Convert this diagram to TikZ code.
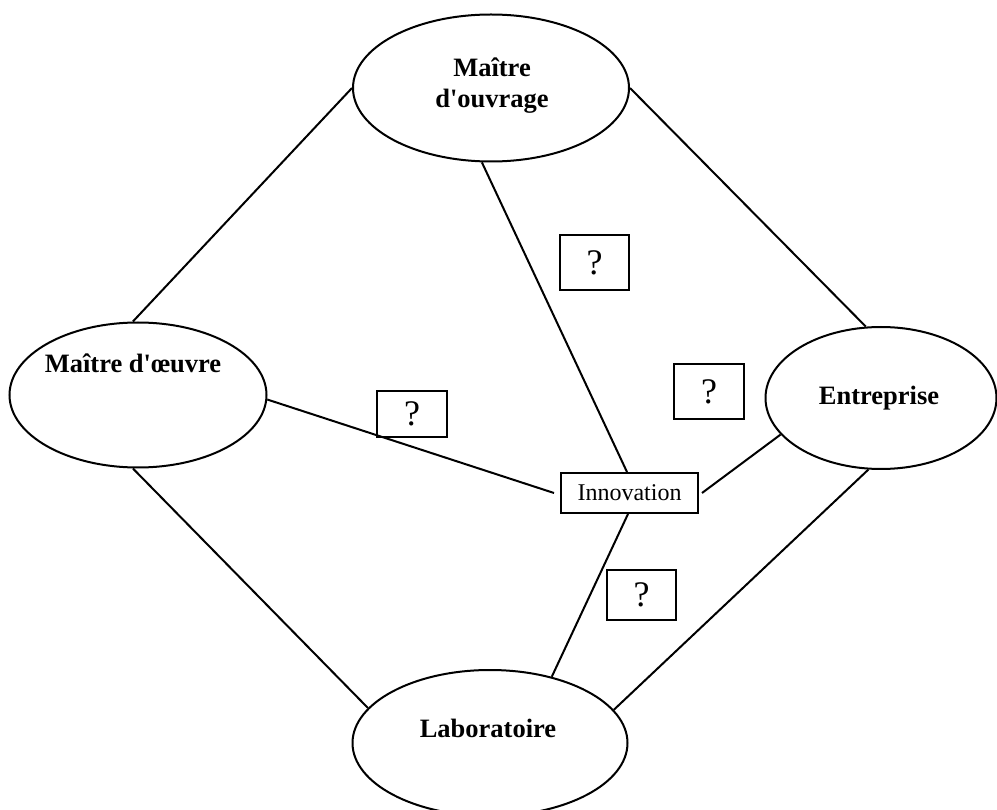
\documentclass[tikz,border=0pt]{standalone}
\usepackage{fontspec}
\setmainfont{Liberation Serif}
\usetikzlibrary{shapes.geometric}
\begin{document}
\begin{tikzpicture}[x=1pt,y=-1pt,
  actor/.style={draw,ellipse,line width=2pt,inner sep=0pt},
  actorlabel/.style={anchor=base,inner sep=0pt,font=\fontsize{26.5}{31}\selectfont\bfseries},
  innbox/.style={draw,line width=2pt,inner sep=0pt,font=\fontsize{24}{28}\selectfont},
  qbox/.style={draw,line width=2pt,inner sep=0pt,font=\fontsize{36}{40}\selectfont},
  link/.style={line width=2pt}]
\useasboundingbox (0,0) rectangle (997,810);
% actors
\node[actor,minimum width=276pt,minimum height=147pt] (mo) at (491,88) {};
\node[actor,minimum width=257pt,minimum height=145pt] (md) at (138,395) {};
\node[actor,minimum width=231pt,minimum height=142pt] (ent) at (881,398) {};
\node[actor,minimum width=275pt,minimum height=146pt] (lab) at (490,743) {};
\node[actorlabel] (mo1) at (492,77) {Maître};
\node[actorlabel] (mo2) at (492,108) {d\textquotesingle ouvrage};
\node[actorlabel] (mdl) at (133,373) {Maître d\textquotesingle œuvre};
\node[actorlabel] (entl) at (879,405) {Entreprise};
\node[actorlabel] (labl) at (488,737) {Laboratoire};
% innovation and question boxes
\node[innbox,minimum width=137pt,minimum height=40pt] (inn) at (629.5,493) {Innovation};
\node[qbox,minimum width=70pt,minimum height=46pt] (q1) at (412,414) {?};
\node[qbox,minimum width=69pt,minimum height=55pt] (q2) at (594.5,262.5) {?};
\node[qbox,minimum width=70pt,minimum height=55pt] (q3) at (709,391.5) {?};
\node[qbox,minimum width=69pt,minimum height=50pt] (q4) at (641.5,595) {?};
% connectors
\draw[link] (mo.180) -- (md.94);
\draw[link] (mo.0) -- (ent.102);
\draw[link] (md.-94) -- (lab.164.6);
\draw[link] (ent.-100) -- (lab.15);
\draw[link] (mo.-97) -- ([xshift=-2.5pt]inn.north);
\draw[link] (md.-2) -- ([xshift=-6pt]inn.west);
\draw[link] ([xshift=3pt]inn.east) -- (ent.200);
\draw[link] ([xshift=-1.5pt]inn.south) -- (lab.47);
\end{tikzpicture}
\end{document}
